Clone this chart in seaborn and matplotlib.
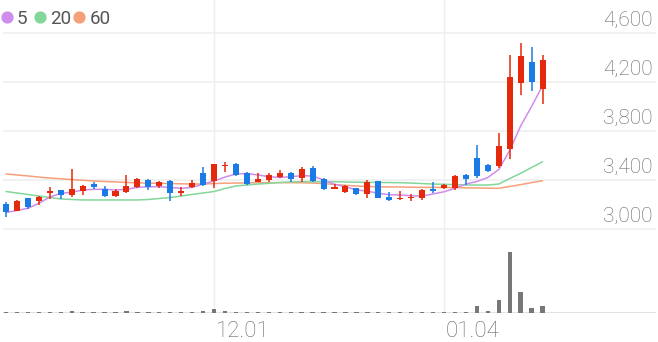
import numpy as np
import pandas as pd
import matplotlib
matplotlib.use("Agg")
import matplotlib.pyplot as plt
from matplotlib.lines import Line2D
import matplotlib.transforms as mtransforms
import seaborn as sns

# ---------------- data ----------------
opens = [3204, 3149, 3251, 3231, 3291, 3316, 3275, 3313, 3365, 3324,
         3269, 3300, 3345, 3400, 3349, 3392, 3296, 3340, 3455, 3392,
         3514, 3530, 3460, 3386, 3400, 3422, 3455, 3414, 3495, 3408,
         3327, 3305, 3332, 3288, 3394, 3264, 3242, 3250, 3250, 3327,
         3332, 3332, 3438, 3577, 3522, 3514, 3651, 4190, 4366, 4140]
closes = [3141, 3231, 3177, 3264, 3313, 3275, 3324, 3351, 3345, 3269,
          3313, 3351, 3405, 3340, 3381, 3290, 3307, 3378, 3357, 3528,
          3522, 3441, 3365, 3408, 3438, 3455, 3408, 3490, 3394, 3324,
          3340, 3353, 3288, 3381, 3256, 3237, 3251, 3264, 3318, 3313,
          3359, 3433, 3405, 3433, 3473, 3680, 4243, 4414, 4198, 4380]
highs = [3223, 3237, 3256, 3269, 3340, 3316, 3487, 3359, 3386, 3351,
         3324, 3441, 3414, 3410, 3389, 3400, 3340, 3400, 3503, 3528,
         3549, 3538, 3469, 3460, 3455, 3482, 3465, 3503, 3514, 3419,
         3367, 3359, 3332, 3400, 3394, 3305, 3313, 3286, 3324, 3386,
         3365, 3443, 3449, 3686, 3530, 3781, 4420, 4516, 4483, 4420]
lows = [3096, 3147, 3163, 3196, 3242, 3245, 3264, 3278, 3324, 3264,
        3264, 3291, 3331, 3318, 3337, 3229, 3272, 3332, 3351, 3337,
        3468, 3433, 3357, 3381, 3386, 3414, 3386, 3386, 3386, 3318,
        3324, 3294, 3280, 3251, 3256, 3231, 3240, 3231, 3237, 3291,
        3324, 3318, 3359, 3414, 3465, 3495, 3569, 4094, 4129, 4020]
ma5 = [3135, 3151, 3169, 3210, 3261, 3291, 3300, 3318, 3324, 3324,
       3318, 3324, 3340, 3345, 3345, 3340, 3332, 3340, 3367, 3392,
       3424, 3449, 3453, 3441, 3427, 3420, 3427, 3435, 3433, 3400,
       3365, 3345, 3318, 3310, 3291, 3280, 3278, 3271, 3269, 3286,
       3304, 3332, 3367, 3388, 3420, 3486, 3641, 3841, 4000, 4170]
ma20 = [3306, 3294, 3282, 3269, 3257, 3245, 3241, 3237, 3237, 3237,
        3237, 3237, 3237, 3241, 3249, 3257, 3269, 3282, 3294, 3306,
        3331, 3351, 3359, 3367, 3373, 3380, 3384, 3386, 3386, 3386,
        3386, 3384, 3382, 3381, 3380, 3379, 3378, 3375, 3371, 3367,
        3365, 3362, 3359, 3359, 3359, 3367, 3412, 3455, 3502, 3549]
ma60 = [3449, 3441, 3433, 3424, 3416, 3410, 3404, 3398, 3392, 3388,
        3384, 3380, 3377, 3375, 3373, 3371, 3369, 3367, 3367, 3371,
        3374, 3375, 3377, 3378, 3378, 3378, 3378, 3377, 3375, 3371,
        3363, 3357, 3351, 3347, 3344, 3343, 3343, 3341, 3340, 3340,
        3339, 3338, 3336, 3335, 3333, 3332, 3347, 3362, 3379, 3394]
volumes = [70, 60, 80, 60, 70, 60, 160, 70, 60, 70,
           60, 120, 70, 60, 70, 80, 60, 70, 170, 300,
           120, 70, 60, 80, 60, 70, 60, 80, 70, 60,
           70, 60, 80, 70, 60, 70, 60, 70, 60, 70,
           80, 110, 60, 580, 170, 1040, 4900, 1650, 400, 580]  # thousands
tick_idx = [19, 40]
tick_labels = ["12.01", "01.04"]
price_ticks = [3000, 3400, 3800, 4200, 4600]
ma_names = ["5", "20", "60"]

# ---------------- style ----------------
sns.set_theme(style="white")
plt.rcParams["font.family"] = ["Roboto", "DejaVu Sans"]

UP = "#e5290c"
DOWN = "#1b7be6"
MA_COLORS = {"5": "#cf8cec", "20": "#83d79b", "60": "#f6a07a"}
GRID = "#efefef"
TXT = "#666666"

W, H = 658, 342
fig = plt.figure(figsize=(W / 100, H / 100), dpi=100)
fig.patch.set_facecolor("white")

x_left_px, x_right_px = 3, 656
px_per_bar = 10.95
first_px = 6
xlim = ((x_left_px - first_px) / px_per_bar, (x_right_px - first_px) / px_per_bar)

# price panel: figure px 0..240 ; price = 3000 at px 229, 400 per 49 px
ppx = 400 / 49.0
p_top, p_bot = 0, 240
ylim_price = (3000 - (p_bot - 229) * ppx, 3000 + (229 - p_top) * ppx)

ax = fig.add_axes([x_left_px / W, 1 - p_bot / H, (x_right_px - x_left_px) / W, (p_bot - p_top) / H])
v_top, v_bot = 240, 313
axv = fig.add_axes([x_left_px / W, 1 - v_bot / H, (x_right_px - x_left_px) / W, (v_bot - v_top) / H])

x = np.arange(len(opens))
o = np.array(opens); c = np.array(closes)
colors = np.where(c >= o, UP, DOWN)

# gridlines
for a in (ax, axv):
    a.set_xlim(*xlim)
    for s in a.spines.values():
        s.set_visible(False)
    a.set_xticks([]); a.set_yticks([])
    for t in tick_idx:
        a.axvline(t, color=GRID, lw=1.0, zorder=0)
for p in price_ticks:
    ax.axhline(p, color=GRID, lw=1.2, zorder=0)
ax.set_ylim(*ylim_price)

# moving averages via seaborn
df = pd.DataFrame({
    "idx": np.concatenate([x, x, x]),
    "value": np.concatenate([ma5, ma20, ma60]),
    "ma": ["5"] * len(x) + ["20"] * len(x) + ["60"] * len(x),
})
sns.lineplot(data=df, x="idx", y="value", hue="ma", palette=MA_COLORS,
             hue_order=["60", "20", "5"], lw=1.1, legend=False, ax=ax, zorder=2)
ax.set_xlabel(""); ax.set_ylabel("")
ax.set_xlim(*xlim); ax.set_ylim(*ylim_price)

# candles
ax.vlines(x, lows, highs, colors=colors, lw=1.1, zorder=3)
body_bottom = np.minimum(o, c)
body_h = np.maximum(np.abs(c - o), 8)
ax.bar(x, body_h, bottom=body_bottom, width=0.55, color=colors, linewidth=0, zorder=4)

# price labels (right, above gridlines)
trans = mtransforms.blended_transform_factory(ax.transAxes, ax.transData)
off = mtransforms.ScaledTranslation(0, 5 / 72, fig.dpi_scale_trans)
for p in price_ticks:
    ax.text((652.5 - x_left_px) / (x_right_px - x_left_px), p, f"{p:,}",
            transform=trans + off, ha="right", va="baseline",
            fontsize=15, color=TXT, fontweight="light")

# volume
axv.bar(x, volumes, width=0.4, color="#777777", linewidth=0, zorder=3)
axv.set_ylim(0, max(volumes) * 73 / 61.3)
axv.axhline(0, color="#dddddd", lw=1.2, zorder=2)

# x labels
for t, lab in zip(tick_idx, tick_labels):
    fx = (first_px + t * px_per_bar + 2) / W
    fig.text(fx, 1 - 337 / H, lab, ha="left", va="baseline",
             fontsize=16, color=TXT, fontweight="light")

# legend
leg_items = [("5", 7, 17), ("20", 40, 50), ("60", 79, 90)]
for name, dot_x, txt_x in leg_items:
    fig.add_artist(Line2D([dot_x / W], [1 - 17 / H], marker="o", markersize=7.8,
                          color=MA_COLORS[name], linestyle="none",
                          transform=fig.transFigure))
    fig.text(txt_x / W, 1 - 23.5 / H, name, ha="left", va="baseline",
             fontsize=13.5, color="#555555", fontweight="normal")

fig.savefig("out.png", dpi=100, facecolor="white")
